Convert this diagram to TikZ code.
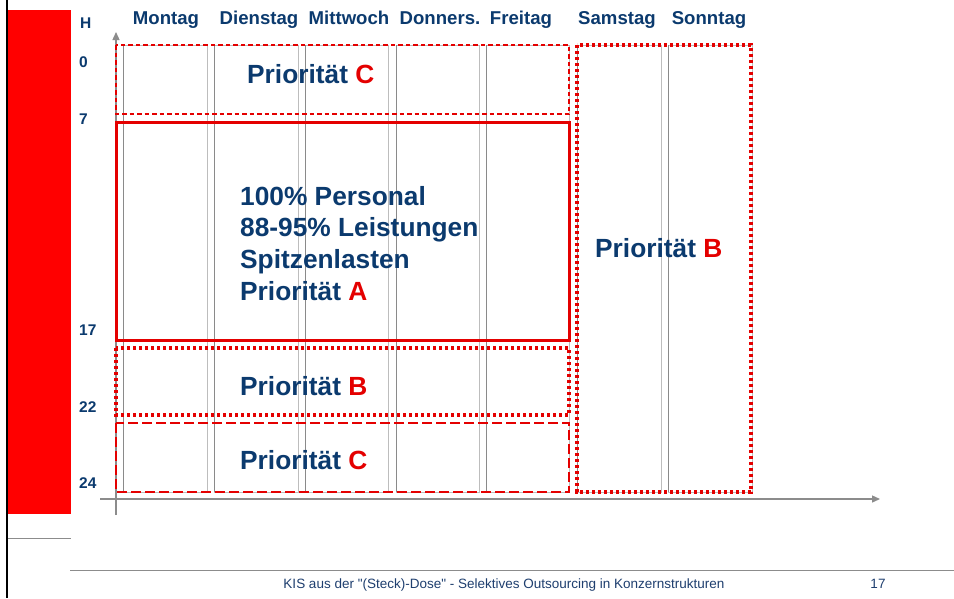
\documentclass[tikz,border=0pt]{standalone}
\usepackage{fontspec}
\setmainfont{Liberation Sans}
\usetikzlibrary{arrows.meta}
\definecolor{navy}{HTML}{0B3A6E}
\definecolor{pred}{HTML}{E40000}
\definecolor{blockred}{HTML}{FF0000}
\definecolor{axisgray}{HTML}{8C8C8C}
\definecolor{coldark}{HTML}{8A8A8A}
\definecolor{collight}{HTML}{BDBDBD}
\definecolor{footblue}{HTML}{1F3F6F}
\begin{document}
\begin{tikzpicture}[x=1pt,y=-1pt,
  day/.style={font=\fontsize{18.6}{20}\selectfont\bfseries, text=navy, inner sep=0pt, anchor=base},
  hour/.style={font=\fontsize{15.5}{18}\selectfont\bfseries, text=navy, inner sep=0pt, anchor=base west},
  big/.style={font=\fontsize{26.3}{30}\selectfont\bfseries, text=navy, inner sep=0pt, anchor=base west},
  dashA/.style={draw=pred, line width=1.4pt, dash pattern=on 4.5pt off 3pt},
  dashB/.style={draw=pred, line width=1.4pt, dash pattern=on 10pt off 4pt},
  dotbox/.style={draw=pred, line width=3.2pt, dash pattern=on 3.2pt off 2.8pt},
  solidbox/.style={draw=pred, line width=3pt},
  axis/.style={draw=axisgray, line width=1.3pt, -{Triangle[length=8pt,width=7pt]}},
  foot/.style={font=\fontsize{13.5}{15}\selectfont, text=footblue, inner sep=0pt, anchor=base},
  thinrule/.style={draw=axisgray, line width=1pt}
]
\path[use as bounding box] (0,0) rectangle (954,598);
\fill[white] (0,0) rectangle (954,598);
% left band
\fill[blockred] (8,10) rectangle (71,514);
\fill[black] (6,0) rectangle (8,598);
\coordinate (gl1) at (8,538);
\coordinate (gl2) at (71,538);
\draw[thinrule] (gl1) -- (gl2);
% footer rule
\coordinate (fr1) at (70,570);
\coordinate (fr2) at (954,570);
\draw[thinrule] (fr1) -- (fr2);
% day columns
\foreach \l/\r in {123/207,214/298,305/388,396/479,486/569,577/661,668/752} {
  \draw[collight, line width=1pt] (\l,45) -- (\r,45) -- (\r,492) -- (\l,492);
  \draw[coldark, line width=1pt] (\l,45) -- (\l,492);
}
% axes
\coordinate (yaxS) at (116,515);
\coordinate (yaxE) at (116,32);
\coordinate (xaxS) at (100,499);
\coordinate (xaxE) at (880,499);
\draw[axis] (yaxS) -- (yaxE);
\draw[axis] (xaxS) -- (xaxE);
% priority boxes
\draw[dashA] (116,45) rectangle (569,114);
\draw[solidbox] (116,122) rectangle (569,340);
\draw[dotbox] (116,348) rectangle (569,415);
\draw[dashB] (116,423) rectangle (569,492);
\draw[dotbox] (577,45) rectangle (751,492);
% labels
\node[hour] (h) at (80,28) {H};
\node[hour] (h0) at (79,67) {0};
\node[hour] (h7) at (79,124) {7};
\node[hour] (h17) at (79,335) {17};
\node[hour] (h22) at (79,412) {22};
\node[hour] (h24) at (79,488) {24};
\node[day] (mo) at (166,24) {Montag};
\node[day] (di) at (259,24) {Dienstag};
\node[day] (mi) at (349,24) {Mittwoch};
\node[day] (do) at (440,24) {Donners.};
\node[day] (fr) at (521,24) {Freitag};
\node[day] (sa) at (617,24) {Samstag};
\node[day] (so) at (709,24) {Sonntag};
\node[big] (pc1) at (247,83) {Priorität \textcolor{pred}{C}};
\node[big] (l1) at (240,205) {100\% Personal};
\node[big] (l2) at (240,236) {88-95\% Leistungen};
\node[big] (l3) at (240,268) {Spitzenlasten};
\node[big] (l4) at (240,300) {Priorität \textcolor{pred}{A}};
\node[big] (pb1) at (240,395) {Priorität \textcolor{pred}{B}};
\node[big] (pc2) at (240,469) {Priorität \textcolor{pred}{C}};
\node[big] (pb2) at (595,257) {Priorität \textcolor{pred}{B}};
\node[foot] (ft) at (504,588) {KIS aus der \textquotedbl(Steck)-Dose\textquotedbl\ - Selektives Outsourcing in Konzernstrukturen};
\node[foot] (pg) at (878,588) {17};
\end{tikzpicture}
\end{document}
